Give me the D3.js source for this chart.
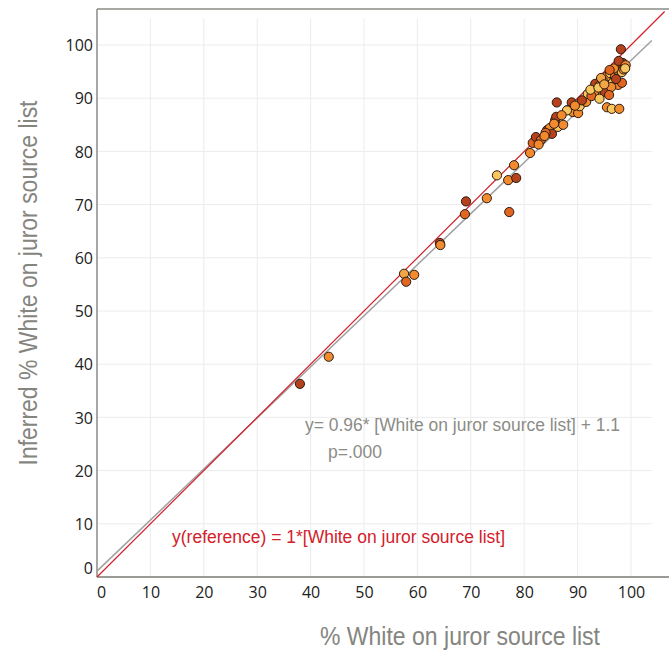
<!DOCTYPE html>
<html>
<head>
<meta charset="utf-8">
<script src="https://cdn.jsdelivr.net/npm/d3@7"></script>
<style>
  html, body { margin: 0; padding: 0; background: #fff; }
  svg { display: block; }
</style>
</head>
<body>
<svg id="chart" width="669" height="652"></svg>
<script>
// ---- data ----
const xValues = [38.0,43.4,57.5,59.4,57.9,64.2,64.3,69.1,68.9,73.0,74.9,77.0,78.5,78.1,77.2,
  81.1,81.6,82.2,83.1,84.3,84.8,85.2,85.8,86.0,86.3,87.3,86.1,85.6,84.0,88.9,88.2,89.1,90.1,90.4,
  91.6,91.9,93.3,94.2,93.6,94.6,95.5,95.3,96.1,97.0,97.4,97.9,98.3,98.5,96.6,97.6,98.3,95.7,95.1,
  96.3,93.1,98.1,95.5,96.4,97.8,92.6,94.1,90.8,89.5,92.4,96.8,97.7,98.6,96.0,94.7,97.2,95.9,93.9,
  88.0,87.0,83.8,82.7,99.0,98.9,94.4,95.0];
const yValues = [36.3,41.4,57.0,56.8,55.5,62.8,62.4,70.6,68.2,71.2,75.5,74.6,75.0,77.4,68.6,
  79.7,81.6,82.7,82.1,84.0,84.4,83.3,85.9,86.5,84.6,85.0,89.2,85.2,83.5,89.2,87.8,87.4,87.2,88.5,
  89.3,90.8,92.7,92.5,91.7,91.2,93.4,94.0,94.7,94.0,95.3,96.1,94.9,96.6,92.9,92.5,92.9,91.4,91.2,
  92.1,91.0,99.2,88.3,88.0,88.0,90.4,89.9,89.6,88.6,91.6,95.6,97.0,95.4,95.3,93.3,93.6,90.6,92.0,
  87.7,86.8,82.9,81.3,96.2,95.6,93.8,92.6];
const groups = ["d","o","l","o","r","d","o","d","r","o","y","o","d","o","r",
  "o","r","d","r","d","o","d","d","d","y","o","d","o","r","d","r","o","o","y",
  "o","y","d","o","r","o","y","o","y","o","r","d","y","d","y","o","r","o","d",
  "o","o","d","o","y","o","r","y","d","o","y","o","d","o","r","y","d","r","y",
  "y","o","o","o","o","y","l","l"];
const groupKeys = ["d","r","o","l","y"];
const groupColors = ["#b5421c","#e2661f","#f28a2e","#f2a545","#f8c65f"];

const xTicks = [0,10,20,30,40,50,60,70,80,90,100];
const yTicks = [0,10,20,30,40,50,60,70,80,90,100];

const fitSlope = 0.96, fitIntercept = 1.1;
const refSlope = 1, refIntercept = 0;
const fitLabel = "y= 0.96* [White on juror source list] + 1.1";
const pLabel = "p=.000";
const refLabel = "y(reference) = 1*[White on juror source list]";
const xTitle = "% White on juror source list";
const yTitle = "Inferred % White on juror source list";

// ---- layout ----
const svg = d3.select("#chart");
const x = d3.scaleLinear().domain([0, 100]).range([97, 631]);
const y = d3.scaleLinear().domain([0, 100]).range([577, 45]);
const color = d3.scaleOrdinal().domain(groupKeys).range(groupColors);

// gridlines
const grid = svg.append("g");
grid.selectAll("line.v").data(xTicks.filter(d => d > 0)).join("line")
  .attr("x1", d => x(d)).attr("x2", d => x(d))
  .attr("y1", y(0)).attr("y2", y(105))
  .attr("stroke", "#ececec").attr("stroke-width", 1);
grid.selectAll("line.h").data(yTicks.filter(d => d > 0)).join("line")
  .attr("x1", x(0)).attr("x2", x(104))
  .attr("y1", d => y(d)).attr("y2", d => y(d))
  .attr("stroke", "#ececec").attr("stroke-width", 1);

// frame
svg.append("line").attr("x1", 97).attr("x2", 669).attr("y1", 9).attr("y2", 9)
  .attr("stroke", "#8a8a86").attr("stroke-width", 1.5);
svg.append("line").attr("x1", 97).attr("x2", 97).attr("y1", 9).attr("y2", 577)
  .attr("stroke", "#8a8a86").attr("stroke-width", 1.5);
svg.append("line").attr("x1", 97).attr("x2", 669).attr("y1", 577).attr("y2", 577)
  .attr("stroke", "#9a9a96").attr("stroke-width", 2);

// axes tick labels
const xAxis = d3.axisBottom(x).tickValues(xTicks).tickSize(0).tickPadding(0);
const gx = svg.append("g").attr("transform", "translate(0,584)").call(xAxis);
gx.select(".domain").remove();
gx.selectAll("text").attr("font-family", "'Open Sans', sans-serif").attr("font-size", 16)
  .attr("fill", "#222").attr("dy", "0.85em")
  .attr("dx", d => d === 0 ? 4 : 0);

const yAxis = d3.axisLeft(y).tickValues(yTicks).tickSize(0).tickPadding(0);
const gy = svg.append("g").attr("transform", "translate(93,0)").call(yAxis);
gy.select(".domain").remove();
gy.selectAll("text").attr("font-family", "'Open Sans', sans-serif").attr("font-size", 16)
  .attr("fill", "#222").attr("dy", d => d === 0 ? "-0.25em" : "0.35em");

// lines
const lineGen = d3.line().x(d => x(d[0])).y(d => y(d[1]));
svg.append("path")
  .datum([[0, fitIntercept], [103.9, fitSlope * 103.9 + fitIntercept]])
  .attr("d", lineGen).attr("fill", "none").attr("stroke", "#a0a0a0").attr("stroke-width", 1.5);
svg.append("path")
  .datum([[0, refIntercept], [106.3, refSlope * 106.3 + refIntercept]])
  .attr("d", lineGen).attr("fill", "none").attr("stroke", "#d4202a").attr("stroke-width", 1.2);

// points
const pts = xValues.map((v, i) => ({ x: v, y: yValues[i], g: groups[i] }));
svg.append("g").selectAll("circle").data(pts).join("circle")
  .attr("cx", d => x(d.x)).attr("cy", d => y(d.y)).attr("r", 4.6)
  .attr("fill", d => color(d.g)).attr("stroke", "#2a1a10").attr("stroke-width", 1);

// annotations
const narrow = "'Liberation Sans Narrow', 'Arial Narrow', 'Liberation Sans', sans-serif";
svg.append("text").attr("x", 305).attr("y", 431).text(fitLabel)
  .attr("font-family", narrow).attr("font-size", 18).attr("fill", "#8c8c86")
  .attr("textLength", 315).attr("lengthAdjust", "spacingAndGlyphs");
svg.append("text").attr("x", 328).attr("y", 458).text(pLabel)
  .attr("font-family", narrow).attr("font-size", 18).attr("fill", "#8c8c86")
  .attr("textLength", 54).attr("lengthAdjust", "spacingAndGlyphs");
svg.append("text").attr("x", 172).attr("y", 543).text(refLabel)
  .attr("font-family", narrow).attr("font-size", 18).attr("fill", "#d4202a")
  .attr("textLength", 333).attr("lengthAdjust", "spacingAndGlyphs");

// axis titles
svg.append("text").attr("x", 460).attr("y", 645).attr("text-anchor", "middle").text(xTitle)
  .attr("font-family", narrow).attr("font-size", 25).attr("fill", "#85857f")
  .attr("textLength", 280).attr("lengthAdjust", "spacingAndGlyphs");
svg.append("text").attr("transform", "translate(37,283) rotate(-90)").attr("text-anchor", "middle")
  .text(yTitle)
  .attr("font-family", narrow).attr("font-size", 26).attr("fill", "#85857f")
  .attr("textLength", 365).attr("lengthAdjust", "spacingAndGlyphs");
</script>
</body>
</html>
